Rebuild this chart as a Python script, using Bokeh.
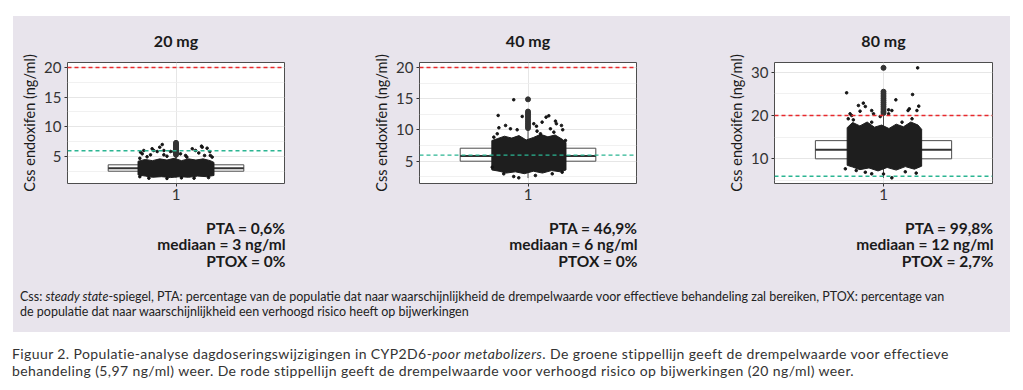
from bokeh.plotting import figure
from bokeh.layouts import column, row
from bokeh.models import Range1d, FixedTicker, Span, Spacer, Div
from bokeh.core.properties import value
from bokeh.embed import file_html
from bokeh.resources import INLINE

# ---------------- data ----------------
doses = ["20 mg", "40 mg", "80 mg"]
q1 = [2.52, 5.0, 10.0]
median = [3.0, 5.85, 12.1]
q3 = [3.6, 7.08, 14.2]
whisk_lo = [1.4, 2.3, 5.6]
whisk_hi = [5.2, 10.2, 20.5]

out_20 = [5.3, 5.5, 5.7, 5.9, 6.1, 6.3, 6.5, 6.7, 6.9, 7.1, 7.3]
out_40 = [10.3, 10.6, 10.9, 11.2, 11.5, 11.8, 12.1, 12.4, 12.7, 12.95, 14.9]
out_80 = [20.6, 21.0, 21.5, 22.0, 22.5, 23.0, 23.5, 24.0, 24.5, 25.0, 25.5, 31.0]

# sparse jittered points at the edge of the clouds
pts20_x = [0.924, 0.91, 0.896, 0.933, 0.97, 0.877, 0.822, 0.813, 0.859, 0.933, 1.025, 1.053, 1.09, 1.108,
           1.145, 1.172, 1.187, 1.19, 1.158, 1.126, 0.988, 1.141, 0.868, 0.804, 0.84, 0.95, 1.00, 1.06,
           1.20, 0.80, 0.85, 0.95, 1.03, 1.10, 1.18, 0.80]
pts20_y = [7.02, 6.57, 5.84, 6.01, 5.84, 6.01, 6.01, 5.45, 5.28, 5.28, 5.45, 5.17, 6.30, 6.01,
           6.57, 6.40, 5.84, 5.17, 5.17, 5.60, 5.84, 6.74, 6.30, 5.73, 4.95, 5.05, 5.10, 4.90,
           4.90, 4.70, 1.35, 1.30, 1.40, 1.35, 1.45, 1.60]
pts40_x = [0.921, 0.835, 0.839, 0.968, 1.032, 1.047, 1.078, 1.10, 1.115, 1.152, 1.157, 1.185, 1.192,
           0.876, 0.903, 0.94, 1.05, 1.069, 1.124, 1.143, 0.83, 0.811, 1.207, 0.921, 0.949, 0.866,
           1.041, 1.134, 1.189, 0.802]
pts40_y = [14.84, 12.32, 10.35, 12.16, 11.0, 10.6, 11.25, 12.05, 12.27, 11.41, 11.0, 10.72, 10.03,
           10.72, 10.19, 10.03, 9.81, 9.39, 10.19, 9.65, 9.39, 8.85, 8.32, 2.55, 2.34, 2.98,
           2.71, 2.98, 3.24, 4.04]
pts80_x = [1.188, 0.797, 1.16, 0.862, 0.889, 0.90, 0.871, 0.825, 0.935, 0.945, 1.028, 1.046, 1.068,
           1.135, 1.142, 1.194, 1.184, 1.028, 0.834, 0.806, 1.102, 1.157, 0.935, 0.982, 0.816,
           1.046, 0.85, 1.0, 0.935, 1.18, 0.79, 1.12, 0.9]
pts80_y = [31.0, 25.24, 24.85, 22.31, 22.85, 22.08, 21.0, 20.0, 21.15, 20.39, 21.31, 21.15, 23.62,
           21.15, 21.54, 22.16, 21.15, 20.39, 19.0, 19.24, 18.46, 19.24, 18.46, 19.77, 20.39,
           5.61, 7.3, 6.5, 6.54, 6.7, 7.69, 7.0, 6.9]

# outline of the dense core of each jitter cloud
core20_x = [0.79, 0.79, 0.83, 0.87, 0.91, 0.95, 0.99, 1.03, 1.07, 1.11, 1.15, 1.19, 1.21, 1.21,
            1.17, 1.12, 1.07, 1.02, 0.97, 0.92, 0.87, 0.83]
core20_y = [1.9, 4.2, 4.5, 4.3, 4.6, 4.4, 4.7, 4.3, 4.6, 4.4, 4.6, 4.3, 4.0, 1.8,
            1.6, 1.7, 1.5, 1.6, 1.45, 1.6, 1.5, 1.7]
core40_x = [0.80, 0.80, 0.83, 0.87, 0.91, 0.95, 0.99, 1.03, 1.07, 1.11, 1.15, 1.19, 1.21, 1.21,
            1.18, 1.13, 1.08, 1.03, 0.98, 0.93, 0.88, 0.84]
core40_y = [3.6, 8.3, 8.6, 9.0, 8.7, 9.1, 8.4, 8.8, 9.3, 8.9, 9.2, 8.5, 8.0, 3.6,
            3.3, 3.5, 3.1, 3.4, 3.0, 3.3, 3.1, 3.4]
core80_x = [0.80, 0.80, 0.83, 0.87, 0.91, 0.95, 0.99, 1.03, 1.07, 1.11, 1.15, 1.19, 1.21, 1.21,
            1.17, 1.12, 1.07, 1.02, 0.97, 0.92, 0.87, 0.83]
core80_y = [8.5, 17.2, 18.4, 17.6, 18.5, 17.3, 17.8, 17.0, 18.0, 17.4, 18.5, 17.8, 16.8, 8.3,
            7.6, 8.2, 7.4, 8.0, 7.2, 7.9, 7.5, 8.1]

y_ticks = [[5, 10, 15, 20], [5, 10, 15, 20], [10, 20, 30]]
y_minor = [[2.5, 7.5, 12.5, 17.5], [2.5, 7.5, 12.5, 17.5], [5, 15, 25]]
y_limits = [(0.45, 20.84), (1.43, 20.8), (4.3, 32.24)]

pta = ["PTA = 0,6%", "PTA = 46,9%", "PTA = 99,8%"]
mediaan = ["mediaan = 3 ng/ml", "mediaan = 6 ng/ml", "mediaan = 12 ng/ml"]
ptox = ["PTOX = 0%", "PTOX = 0%", "PTOX = 2,7%"]

threshold_eff = 5.97
threshold_tox = 20

note_html = ("Css: <i>steady state</i>-spiegel, PTA: percentage van de populatie dat naar waarschijnlijkheid "
             "de drempelwaarde voor effectieve behandeling zal bereiken, PTOX: percentage van<br>"
             "de populatie dat naar waarschijnlijkheid een verhoogd risico heeft op bijwerkingen")
caption_html = ("Figuur 2. Populatie-analyse dagdoseringswijzigingen in CYP2D6-<i>poor metabolizers</i>. "
                "De groene stippellijn geeft de drempelwaarde voor effectieve<br>"
                "behandeling (5,97 ng/ml) weer. De rode stippellijn geeft de drempelwaarde voor verhoogd "
                "risico op bijwerkingen (20 ng/ml) weer.")

outliers = [out_20, out_40, out_80]
pts_x = [pts20_x, pts40_x, pts80_x]
pts_y = [pts20_y, pts40_y, pts80_y]
core_x = [core20_x, core40_x, core80_x]
core_y = [core20_y, core40_y, core80_y]

# ---------------- style / layout ----------------
GREY = "#e8e4ec"
FONT = "Lato"
TOTAL_W = 1023
BAND_X = 13
BAND_W = 997
TOP_H = 16
HDR_H = 38
PAN_H = 159
ST_H = 75
NOTE_H = 44
CAP_H = 58
pan_w = [325, 350, 322]
pan_bl = [54, 81, 86]
pan_br = [54, 52, 18]
PAN_TOP, PAN_BOT = 8, 30


def panel(i):
    p = figure(width=pan_w[i], height=PAN_H, x_range=Range1d(0.4, 1.6),
               y_range=Range1d(*y_limits[i]), title=None,
               min_border_left=pan_bl[i], min_border_right=pan_br[i],
               min_border_top=PAN_TOP, min_border_bottom=PAN_BOT,
               toolbar_location=None, output_backend="svg",
               background_fill_color="white", border_fill_color=GREY,
               outline_line_color="#4d4d4d", outline_line_width=1)
    tk = FixedTicker(ticks=y_ticks[i], minor_ticks=y_minor[i])
    p.yaxis.ticker = tk
    p.ygrid.ticker = tk
    p.xaxis.ticker = FixedTicker(ticks=[1])
    p.xgrid.ticker = FixedTicker(ticks=[1])
    p.ygrid.grid_line_color = "#e6e6e6"
    p.ygrid.minor_grid_line_color = "#eeeeee"
    p.ygrid.minor_grid_line_width = 0.8
    p.xgrid.grid_line_color = "#e6e6e6"
    for ax in (p.xaxis[0], p.yaxis[0]):
        ax.axis_line_color = None
        ax.major_tick_line_color = "#333333"
        ax.major_tick_out = 3
        ax.major_tick_in = 0
        ax.minor_tick_line_color = None
        ax.major_label_text_font = FONT
        ax.major_label_text_font_size = "15px"
        ax.major_label_text_color = "#333333"
        ax.major_label_standoff = 2
    p.yaxis.axis_label = "Css endoxifen (ng/ml)"
    p.yaxis.axis_label_text_font = FONT
    p.yaxis.axis_label_text_font_size = "14.5px"
    p.yaxis.axis_label_text_font_style = "normal"
    p.yaxis.axis_label_text_color = "#1a1a1a"
    p.yaxis.axis_label_standoff = 3

    # boxplot
    p.quad(left=[1 - 0.375], right=[1 + 0.375], bottom=[q1[i]], top=[q3[i]],
           fill_color="white", line_color="#4d4d4d", line_width=1)
    p.segment(x0=[1, 1], y0=[q3[i], q1[i]], x1=[1, 1], y1=[whisk_hi[i], whisk_lo[i]],
              line_color="#4d4d4d", line_width=1)
    p.segment(x0=[1 - 0.375], x1=[1 + 0.375], y0=[median[i]], y1=[median[i]],
              line_color="#333333", line_width=2)
    # jitter cloud
    p.patch(core_x[i], core_y[i], fill_color="#1e1e1e", line_color="#1e1e1e", line_width=1)
    p.scatter(pts_x[i], pts_y[i], size=2.6, color="#141414")
    # outliers
    p.scatter([1] * len(outliers[i]), outliers[i], size=5, color="#333333")
    # thresholds
    p.add_layout(Span(location=threshold_tox, dimension="width", line_color="#e8292d",
                      line_dash="4 3", line_width=1.3))
    p.add_layout(Span(location=threshold_eff, dimension="width", line_color="#2bb592",
                      line_dash="4 3", line_width=1.3))
    return p


panels = [panel(i) for i in range(3)]

# frame geometry in page coordinates
starts = [BAND_X, BAND_X + pan_w[0], BAND_X + pan_w[0] + pan_w[1]]
frame_l = [starts[i] + pan_bl[i] for i in range(3)]
frame_r = [starts[i] + pan_w[i] - pan_br[i] for i in range(3)]
centers = [(frame_l[i] + frame_r[i]) / 2 for i in range(3)]

hdr_y0 = TOP_H
pan_y0 = hdr_y0 + HDR_H
st_y0 = pan_y0 + PAN_H


def text_fig(h, y0):
    f = figure(width=BAND_W, height=h, x_range=Range1d(BAND_X, BAND_X + BAND_W),
               y_range=Range1d(y0 + h, y0), title=None,
               x_axis_type=None, y_axis_type=None, min_border=0,
               toolbar_location=None, output_backend="svg",
               background_fill_color=GREY, border_fill_color=GREY, outline_line_color=None)
    f.grid.visible = False
    return f


hdr = text_fig(HDR_H, hdr_y0)
hdr.text(x=centers, y=[40] * 3, text=doses, text_font=value(FONT), text_font_size="16px",
         text_font_style="bold", text_align="center", text_baseline="middle", text_color="#1a1a1a")

st = text_fig(ST_H, st_y0)
rx = [r + 1 for r in frame_r]
for lines, yy in ((pta, 227), (mediaan, 243.5), (ptox, 260)):
    st.text(x=rx, y=[yy] * 3, text=lines, text_font=value(FONT), text_font_size="15.5px",
            text_font_style="bold", text_align="right", text_baseline="middle", text_color="#1a1a1a")

note = Div(text=(f'<div style="font-family:{FONT};font-size:12.5px;line-height:15px;color:#222;'
                 f'white-space:nowrap;padding-left:7px;padding-top:1px;">{note_html}</div>'),
           width=BAND_W, height=NOTE_H, margin=0, styles={"background-color": GREY})
cap = Div(text=(f'<div style="font-family:{FONT};font-size:14px;line-height:17px;color:#333;'
                f'letter-spacing:0.4px;white-space:nowrap;padding-left:12px;padding-top:13px;">'
                f'{caption_html}</div>'),
          width=TOTAL_W, height=CAP_H, margin=0)

band = column(hdr, row(*panels), st, note, styles={"background-color": GREY})
band_h = HDR_H + PAN_H + ST_H + NOTE_H

lay = column(
    Spacer(width=TOTAL_W, height=TOP_H),
    row(Spacer(width=BAND_X, height=band_h), band,
        Spacer(width=TOTAL_W - BAND_X - BAND_W, height=band_h)),
    cap,
)

open("out.html", "w").write(file_html(lay, INLINE))
